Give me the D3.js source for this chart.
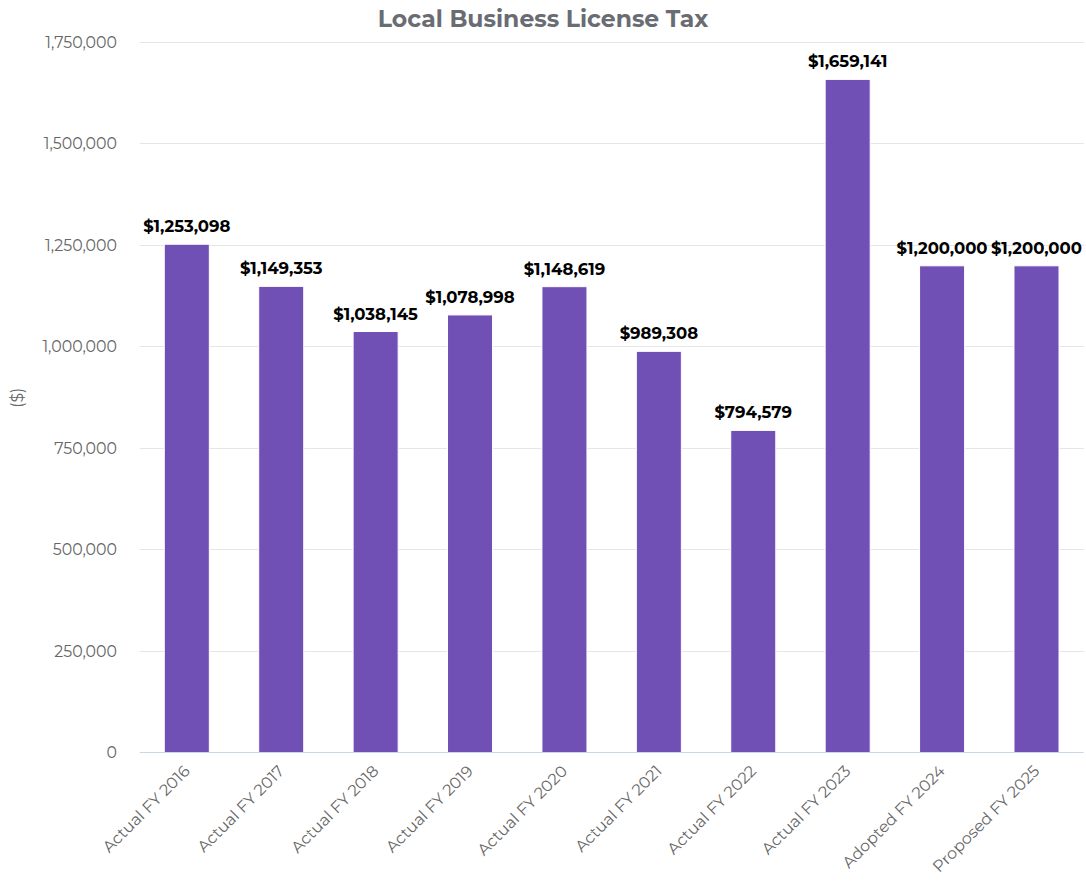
<!DOCTYPE html>
<html><head><meta charset="utf-8">
<script src="https://cdn.jsdelivr.net/npm/d3@7"></script>
<style>body{margin:0;background:#fff;} text{font-family:"Montserrat","DejaVu Sans","Open Sans",sans-serif;}</style>
</head><body>
<svg id="c" width="1086" height="881"></svg>
<script>
const categories = ["Actual FY 2016","Actual FY 2017","Actual FY 2018","Actual FY 2019","Actual FY 2020","Actual FY 2021","Actual FY 2022","Actual FY 2023","Adopted FY 2024","Proposed FY 2025"];
const values = [1253098,1149353,1038145,1078998,1148619,989308,794579,1659141,1200000,1200000];
const yTicks = [0,250000,500000,750000,1000000,1250000,1500000,1750000];
const title = "Local Business License Tax";
const yTitle = "($)";

(function(){
const svg = d3.select("#c");
const pL = 139.6, pR = 1083.7, pT = 42.5, pB = 753;
const x = d3.scaleBand().domain(categories).range([pL, pR]).paddingInner(0.523).paddingOuter(0.2615);
const y = d3.scaleLinear().domain([0, 1750000]).range([pB, pT]);

svg.append("g").selectAll("line").data(yTicks.filter(d=>d>0)).join("line")
  .attr("x1", pL).attr("x2", pR).attr("y1", d=>Math.round(y(d))-0.5).attr("y2", d=>Math.round(y(d))-0.5)
  .attr("stroke", "#e6e6e6").attr("stroke-width", 1);

const fmt = d3.format(",");
svg.append("g").selectAll("text").data(yTicks).join("text")
  .attr("x", 117).attr("y", d=>y(d)+5).attr("text-anchor","end")
  .attr("font-size", 15.8).attr("fill", "#666666").text(d=>fmt(d));

svg.append("text").attr("transform", `translate(23,${(pT+pB)/2}) rotate(-90)`)
  .attr("text-anchor","middle").attr("font-size",15.8).attr("fill","#666666").text(yTitle);

svg.append("g").selectAll("rect").data(values).join("rect")
  .attr("x", (d,i)=>x(categories[i])).attr("width", x.bandwidth())
  .attr("y", d=>y(d)).attr("height", d=>pB - y(d))
  .attr("fill", "#7150b6").attr("stroke","#ffffff").attr("stroke-width",1);

svg.append("line").attr("x1", pL).attr("x2", pR).attr("y1", pB-0.5).attr("y2", pB-0.5)
  .attr("stroke", "#ccd6eb").attr("stroke-width", 1);

svg.append("g").selectAll("text").data(values).join("text")
  .attr("x", (d,i)=>x(categories[i]) + x.bandwidth()/2).attr("y", d=>y(d)-12)
  .attr("text-anchor","middle").attr("font-size",16.5).attr("font-weight","bold").attr("fill","#000")
  .text(d=>"$"+fmt(d));

svg.append("g").selectAll("text").data(categories).join("text")
  .attr("transform", d=>`translate(${x(d)+x.bandwidth()/2+4},${pB+19}) rotate(-45)`)
  .attr("text-anchor","end").attr("font-size",16).attr("fill","#666666").text(d=>d);

svg.append("text").attr("x", 543).attr("y", 27).attr("text-anchor","middle")
  .attr("font-size",23.5).attr("font-weight","bold").attr("fill","#696c72").text(title);
})();
</script>
</body></html>
